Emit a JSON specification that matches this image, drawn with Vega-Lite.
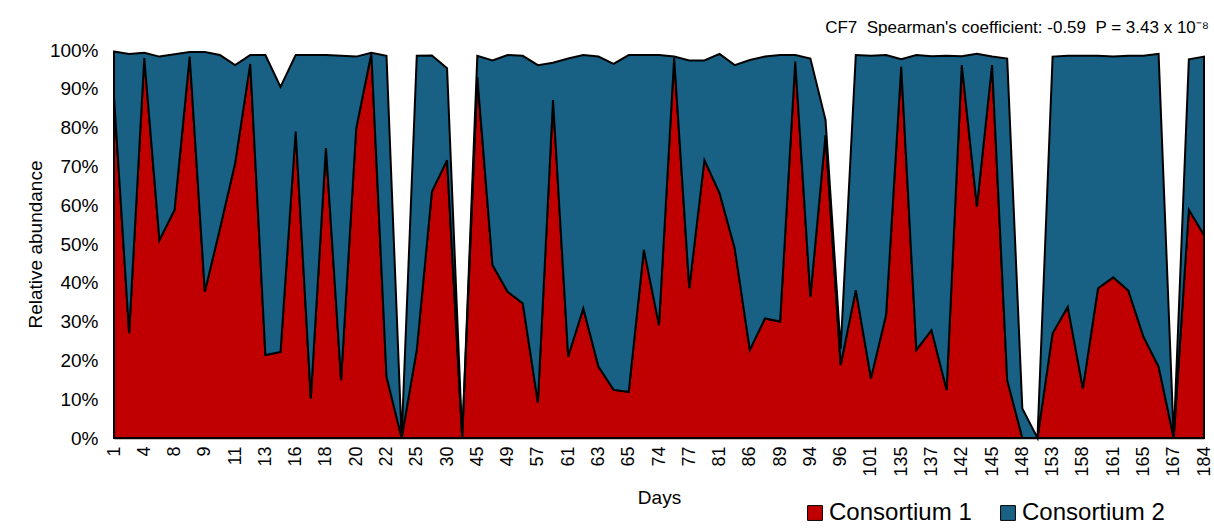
{
  "$schema": "https://vega.github.io/schema/vega-lite/v6.json",
  "width": 1090,
  "height": 388,
  "autosize": {"type": "none"},
  "padding": {"left": 114, "top": 50, "right": 10, "bottom": 91},
  "background": "white",
  "config": {"view": {"stroke": null}, "font": "Liberation Sans"},
  "title": {"text": "CF7\u00a0\u00a0Spearman's coefficient: -0.59\u00a0\u00a0P = 3.43 x 10⁻⁸", "anchor": "end", "fontSize": 17, "fontWeight": "normal", "font": "Liberation Sans", "color": "#000000", "offset": 4, "dx": -4},
  "data": {"values": [
    {"n": 1, "day": "1", "Consortium 1": 88, "Consortium 2": 11.6},
    {"n": 2, "day": "", "Consortium 1": 27, "Consortium 2": 72},
    {"n": 3, "day": "4", "Consortium 1": 97.9, "Consortium 2": 1.4},
    {"n": 4, "day": "", "Consortium 1": 51, "Consortium 2": 47.3},
    {"n": 5, "day": "8", "Consortium 1": 58.8, "Consortium 2": 40.1},
    {"n": 6, "day": "", "Consortium 1": 98.3, "Consortium 2": 1.2},
    {"n": 7, "day": "9", "Consortium 1": 37.7, "Consortium 2": 61.8},
    {"n": 8, "day": "", "Consortium 1": 54, "Consortium 2": 44.7},
    {"n": 9, "day": "11", "Consortium 1": 70.8, "Consortium 2": 25.3},
    {"n": 10, "day": "", "Consortium 1": 96.4, "Consortium 2": 2.3},
    {"n": 11, "day": "13", "Consortium 1": 21.4, "Consortium 2": 77.3},
    {"n": 12, "day": "", "Consortium 1": 22.2, "Consortium 2": 68.3},
    {"n": 13, "day": "16", "Consortium 1": 79, "Consortium 2": 19.7},
    {"n": 14, "day": "", "Consortium 1": 10.2, "Consortium 2": 88.5},
    {"n": 15, "day": "18", "Consortium 1": 74.7, "Consortium 2": 24},
    {"n": 16, "day": "", "Consortium 1": 14.9, "Consortium 2": 83.6},
    {"n": 17, "day": "20", "Consortium 1": 79.8, "Consortium 2": 18.5},
    {"n": 18, "day": "", "Consortium 1": 99.1, "Consortium 2": 0.2},
    {"n": 19, "day": "22", "Consortium 1": 15.8, "Consortium 2": 82.7},
    {"n": 20, "day": "", "Consortium 1": 0, "Consortium 2": 0},
    {"n": 21, "day": "25", "Consortium 1": 22.7, "Consortium 2": 75.8},
    {"n": 22, "day": "", "Consortium 1": 63.5, "Consortium 2": 35.1},
    {"n": 23, "day": "30", "Consortium 1": 71.6, "Consortium 2": 23.7},
    {"n": 24, "day": "", "Consortium 1": 0, "Consortium 2": 0},
    {"n": 25, "day": "45", "Consortium 1": 93, "Consortium 2": 5.5},
    {"n": 26, "day": "", "Consortium 1": 44.6, "Consortium 2": 52.7},
    {"n": 27, "day": "49", "Consortium 1": 37.7, "Consortium 2": 61},
    {"n": 28, "day": "", "Consortium 1": 34.7, "Consortium 2": 63.8},
    {"n": 29, "day": "57", "Consortium 1": 9.1, "Consortium 2": 87},
    {"n": 30, "day": "", "Consortium 1": 87.1, "Consortium 2": 9.6},
    {"n": 31, "day": "61", "Consortium 1": 21, "Consortium 2": 76.8},
    {"n": 32, "day": "", "Consortium 1": 33.4, "Consortium 2": 65.3},
    {"n": 33, "day": "63", "Consortium 1": 18.4, "Consortium 2": 79.9},
    {"n": 34, "day": "", "Consortium 1": 12.4, "Consortium 2": 84},
    {"n": 35, "day": "65", "Consortium 1": 11.9, "Consortium 2": 86.8},
    {"n": 36, "day": "", "Consortium 1": 48.5, "Consortium 2": 50.2},
    {"n": 37, "day": "74", "Consortium 1": 29.1, "Consortium 2": 69.6},
    {"n": 38, "day": "", "Consortium 1": 97.9, "Consortium 2": 0.4},
    {"n": 39, "day": "77", "Consortium 1": 38.6, "Consortium 2": 58.7},
    {"n": 40, "day": "", "Consortium 1": 71.6, "Consortium 2": 25.7},
    {"n": 41, "day": "81", "Consortium 1": 63.1, "Consortium 2": 35.9},
    {"n": 42, "day": "", "Consortium 1": 48.9, "Consortium 2": 47.2},
    {"n": 43, "day": "86", "Consortium 1": 22.7, "Consortium 2": 74.7},
    {"n": 44, "day": "", "Consortium 1": 30.8, "Consortium 2": 67.5},
    {"n": 45, "day": "89", "Consortium 1": 30, "Consortium 2": 68.7},
    {"n": 46, "day": "", "Consortium 1": 97, "Consortium 2": 1.7},
    {"n": 47, "day": "94", "Consortium 1": 36.4, "Consortium 2": 61.4},
    {"n": 48, "day": "", "Consortium 1": 78.1, "Consortium 2": 3.9},
    {"n": 49, "day": "96", "Consortium 1": 18.8, "Consortium 2": 4.2},
    {"n": 50, "day": "", "Consortium 1": 38.1, "Consortium 2": 60.6},
    {"n": 51, "day": "101", "Consortium 1": 15.4, "Consortium 2": 83.1},
    {"n": 52, "day": "", "Consortium 1": 31.7, "Consortium 2": 67},
    {"n": 53, "day": "135", "Consortium 1": 95.7, "Consortium 2": 1.9},
    {"n": 54, "day": "", "Consortium 1": 22.7, "Consortium 2": 76},
    {"n": 55, "day": "137", "Consortium 1": 27.8, "Consortium 2": 70.6},
    {"n": 56, "day": "", "Consortium 1": 12.4, "Consortium 2": 86.1},
    {"n": 57, "day": "142", "Consortium 1": 96.1, "Consortium 2": 2.3},
    {"n": 58, "day": "", "Consortium 1": 59.6, "Consortium 2": 39.4},
    {"n": 59, "day": "145", "Consortium 1": 96.1, "Consortium 2": 2.2},
    {"n": 60, "day": "", "Consortium 1": 14.9, "Consortium 2": 82.9},
    {"n": 61, "day": "148", "Consortium 1": 0, "Consortium 2": 7.6},
    {"n": 62, "day": "", "Consortium 1": 0, "Consortium 2": 0},
    {"n": 63, "day": "153", "Consortium 1": 27, "Consortium 2": 71.3},
    {"n": 64, "day": "", "Consortium 1": 33.8, "Consortium 2": 64.7},
    {"n": 65, "day": "158", "Consortium 1": 12.8, "Consortium 2": 85.7},
    {"n": 66, "day": "", "Consortium 1": 38.6, "Consortium 2": 59.9},
    {"n": 67, "day": "161", "Consortium 1": 41.4, "Consortium 2": 56.9},
    {"n": 68, "day": "", "Consortium 1": 38, "Consortium 2": 60.5},
    {"n": 69, "day": "165", "Consortium 1": 26.1, "Consortium 2": 72.4},
    {"n": 70, "day": "", "Consortium 1": 18.4, "Consortium 2": 80.6},
    {"n": 71, "day": "167", "Consortium 1": 0, "Consortium 2": 0},
    {"n": 72, "day": "", "Consortium 1": 58.8, "Consortium 2": 38.8},
    {"n": 73, "day": "184", "Consortium 1": 52.3, "Consortium 2": 46}
  ]},
  "transform": [{"fold": ["Consortium 1", "Consortium 2"], "as": ["series", "value"]}],
  "mark": {"type": "area", "stroke": "black", "strokeWidth": 2, "interpolate": "linear"},
  "encoding": {
    "x": {
      "field": "n", "type": "quantitative",
      "scale": {"domain": [1, 73], "nice": false, "zero": false},
      "axis": {
        "values": [1,3,5,7,9,11,13,15,17,19,21,23,25,27,29,31,33,35,37,39,41,43,45,47,49,51,53,55,57,59,61,63,65,67,69,71,73],
        "labelExpr": "['1','4','8','9','11','13','16','18','20','22','25','30','45','49','57','61','63','65','74','77','81','86','89','94','96','101','135','137','142','145','148','153','158','161','165','167','184'][(datum.value-1)/2]",
        "labelAngle": -90, "labelFontSize": 18, "labelColor": "#000000", "labelPadding": 8,
        "labelFlush": false, "labelOverlap": false, "labelBound": false,
        "ticks": false, "grid": false, "domainColor": "#000000", "domainWidth": 1.5,
        "title": "Days", "titleFontSize": 19, "titleFontWeight": "normal", "titleColor": "#000000", "titlePadding": 12
      }
    },
    "y": {
      "field": "value", "type": "quantitative", "stack": "zero",
      "scale": {"domain": [0, 100], "nice": false},
      "axis": {
        "values": [0,10,20,30,40,50,60,70,80,90,100],
        "labelExpr": "datum.value + '%'",
        "labelFontSize": 19, "labelColor": "#000000", "labelPadding": 16,
        "domain": false, "ticks": false, "grid": false,
        "title": "Relative abundance", "titleFontSize": 19, "titleFontWeight": "normal", "titleColor": "#000000", "titlePadding": 4
      }
    },
    "color": {
      "field": "series", "type": "nominal",
      "scale": {"domain": ["Consortium 1", "Consortium 2"], "range": ["#C00000", "#186084"]},
      "legend": {
        "orient": "none", "legendX": 689, "legendY": 451, "direction": "horizontal", "title": null,
        "labelFontSize": 24, "labelColor": "#000000", "symbolType": "square", "symbolSize": 220,
        "symbolStrokeColor": "#000000", "symbolStrokeWidth": 1, "symbolOpacity": 1, "columnPadding": 24, "labelOffset": 2
      }
    },
    "order": {"field": "series", "sort": "ascending"}
  }
}
